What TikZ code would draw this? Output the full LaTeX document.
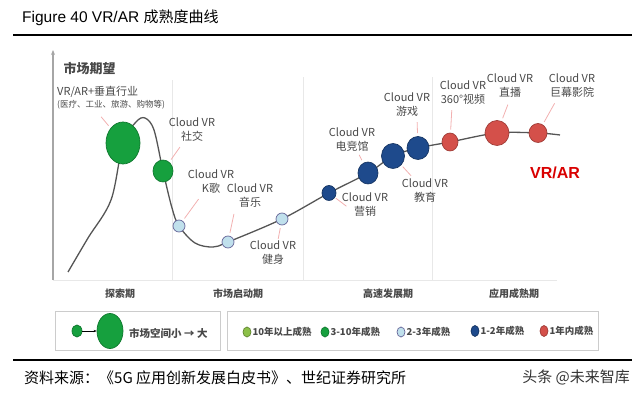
\documentclass[tikz,border=0pt]{standalone}
\usepackage{fontspec}
\setmainfont{Noto Sans CJK SC}
\newfontfamily\latinfont{Liberation Sans}
\usetikzlibrary{arrows.meta,shapes.geometric}
\definecolor{tenyr}{RGB}{140,192,72}
\definecolor{grn}{RGB}{22,160,62}
\definecolor{ltblue}{RGB}{192,224,236}
\definecolor{navy}{RGB}{30,74,140}
\definecolor{redc}{RGB}{212,80,74}
\definecolor{curvec}{RGB}{85,85,85}
\definecolor{leadc}{RGB}{242,176,176}
\definecolor{txtc}{RGB}{72,72,72}
\definecolor{rulec}{RGB}{232,232,232}

\begin{document}
\begin{tikzpicture}[x=1pt, y=-1pt,
  dot/.style={ellipse, draw, line width=0.7pt, inner sep=0pt},
  gdot/.style={dot, fill=grn, draw=grn!75!black},
  bdot/.style={dot, fill=ltblue, draw=gray!80!blue, minimum width=12pt, minimum height=12pt},
  ndot/.style={dot, fill=navy, draw=navy!70!black},
  rdot/.style={dot, fill=redc, draw=redc!75!black},
  ydot/.style={dot, fill=tenyr, draw=tenyr!70!black},
  lab/.style={align=center, font=\fontsize{11}{14}\selectfont, text=txtc, inner sep=1pt},
  lead/.style={draw=leadc, line width=0.8pt, shorten <=#1, shorten >=3pt},
  lead/.default=4pt,
  phase/.style={font=\bfseries\fontsize{10}{12}\selectfont, text=txtc},
  key/.style={font=\bfseries\fontsize{9.5}{11}\selectfont, anchor=west, inner sep=1pt, text=txtc},
  keybox/.style={draw=gray!40, line width=1pt, minimum height=39pt, anchor=north west}]
  \useasboundingbox (0,0) rectangle (640,398);
  % heading and rules
  \node[anchor=west, inner sep=0pt] (title) at (22,18) {\latinfont\fontsize{15.5}{18}\selectfont Figure 40 VR/AR \fontsize{15}{18}\selectfont\rmfamily 成熟度曲线};
  \draw[line width=1.5pt] (13,35) -- (632,35);
  \draw[line width=1.5pt] (13,360) -- (632,360);
  % axis and phase dividers
  \coordinate (o) at (53,280);
  \coordinate (top) at (53,50);
  \draw[rulec, line width=1pt] (172,80) -- (172,280) (303,77) -- (303,280) (432,77) -- (432,280);
  \draw[rulec, line width=1pt] (o) -- (557,280);
  \draw[gray!70, line width=1.2pt, -{Stealth[length=5pt, width=4pt]}] (o) -- (top);
  \node[font=\bfseries\fontsize{13}{15}\selectfont, text=txtc, anchor=west] (yl) at (60,68) {市场期望};
  % curve
  \draw[curvec, line width=1.3pt] plot[smooth, tension=0.55] coordinates {(68,272) (88,238) (111,200) (123,143) (136,122) (145,118) (154,130) (163,171) (172,208) (179,226) (195,243) (213,247) (228,242) (282,219) (329,193) (368,173) (393,156) (418,148) (450,142) (497,133) (538,133) (560,135)};
  % maturity dots
  \node[gdot, minimum width=34pt, minimum height=42pt] (big) at (123,143) {};
  \node[gdot, minimum width=20pt, minimum height=22pt] (soc) at (163,171) {};
  \node[bdot] (ktv) at (179,226) {};
  \node[bdot] (mus) at (228,242) {};
  \node[bdot] (fit) at (282,219) {};
  \node[ndot, minimum width=14pt, minimum height=15pt] (mkt) at (329,193) {};
  \node[ndot, minimum width=20pt, minimum height=22pt] (esp) at (368,173) {};
  \node[ndot, minimum width=23pt, minimum height=25pt] (edu) at (393,156) {};
  \node[ndot, minimum width=22pt, minimum height=23pt] (game) at (418,148) {};
  \node[rdot, minimum width=16pt, minimum height=18pt] (v360) at (450,142) {};
  \node[rdot, minimum width=24pt, minimum height=25pt] (live) at (497,133) {};
  \node[rdot, minimum width=18pt, minimum height=19pt] (cin) at (538,133) {};
  % labels
  \node[lab, align=left, anchor=west] (lbig) at (56,98) {VR/AR+垂直行业\\[-2pt]{\fontsize{8.5}{10}\selectfont (医疗、工业、旅游、购物等)}};
  \node[lab] (lsoc) at (192,130) {Cloud VR\\社交};
  \node[lab] (lktv) at (211,182) {Cloud VR\\K歌};
  \node[lab] (lmus) at (250,196) {Cloud VR\\音乐};
  \node[lab] (lfit) at (273,253) {Cloud VR\\健身};
  \node[lab] (lesp) at (352,140) {Cloud VR\\电竞馆};
  \node[lab] (lmkt) at (365,205) {Cloud VR\\营销};
  \node[lab] (ledu) at (425,191) {Cloud VR\\教育};
  \node[lab] (lgame) at (407,105) {Cloud VR\\游戏};
  \node[lab] (lv360) at (463,93) {Cloud VR\\360°视频};
  \node[lab] (llive) at (510,86) {Cloud VR\\直播};
  \node[lab] (lcin) at (572,86) {Cloud VR\\巨幕影院};
  \node[font=\latinfont\bfseries\fontsize{16}{18}\selectfont, text=red!85!black] (vrar) at (555,173) {VR/AR};
  % leaders
  \draw[lead=8pt] ([xshift=40pt]lbig.south west) -- (big);
  \draw[lead=5pt] (lsoc) -- (soc);
  \draw[lead=5pt] (lktv) -- (ktv);
  \draw[lead=5pt] ([xshift=-15pt]lmus.south) -- (mus);
  \draw[lead=1pt] ([xshift=5pt]lfit.north) -- (fit);
  \draw[lead=2pt] (lesp) -- (esp);
  \draw[lead=1pt] (mkt) -- ([xshift=8pt,yshift=-3pt]lmkt.west);
  \draw[lead=2pt] (edu) -- (ledu);
  \draw[lead] ([xshift=10pt]lgame.south) -- (game);
  \draw[lead] ([xshift=-11pt]lv360.south) -- (v360);
  \draw[lead=6pt] (llive.south) -- (live);
  \draw[lead=5pt] ([xshift=-15pt]lcin.south) -- (cin);
  % phases
  \node[phase] (p1) at (120,294) {探索期};
  \node[phase] (p2) at (238,294) {市场启动期};
  \node[phase] (p3) at (388,294) {高速发展期};
  \node[phase] (p4) at (514,294) {应用成熟期};
  % legend
  \node[keybox, minimum width=165pt] (kbox1) at (55,311) {};
  \node[keybox, minimum width=371pt] (kbox2) at (227,311) {};
  \node[gdot, minimum width=10pt, minimum height=12pt] (ks) at (77,331) {};
  \node[gdot, minimum width=26pt, minimum height=35pt] (kl) at (110,331) {};
  \draw[-{Stealth[length=3pt]}, line width=0.8pt] (ks) -- (kl);
  \node[key, font=\bfseries\fontsize{10.5}{12}\selectfont] (kt) at (128,333) {市场空间小 → 大};
  \node[ydot, minimum width=8pt, minimum height=10pt] (k1) at (247,332) {};
  \node[key] at (k1.east) {10年以上成熟};
  \node[gdot, minimum width=8pt, minimum height=10pt] (k2) at (325,332) {};
  \node[key] at (k2.east) {3-10年成熟};
  \node[bdot, minimum width=8pt, minimum height=10pt] (k3) at (401,332) {};
  \node[key] at (k3.east) {2-3年成熟};
  \node[ndot, minimum width=8pt, minimum height=11pt] (k4) at (475,331) {};
  \node[key] at (k4.east) {1-2年成熟};
  \node[rdot, minimum width=8pt, minimum height=11pt] (k5) at (544,331) {};
  \node[key] at (k5.east) {1年内成熟};
  % source line
  \node[anchor=west, inner sep=0pt, font=\fontsize{15}{17}\selectfont] (src) at (24,378) {资料来源：《5G 应用创新发展白皮书》、世纪证券研究所};
  \node[anchor=east, inner sep=0pt, font=\fontsize{15}{17}\selectfont, text=black!80] (wm) at (630,377) {头条 @未来智库};
\end{tikzpicture}
\end{document}
